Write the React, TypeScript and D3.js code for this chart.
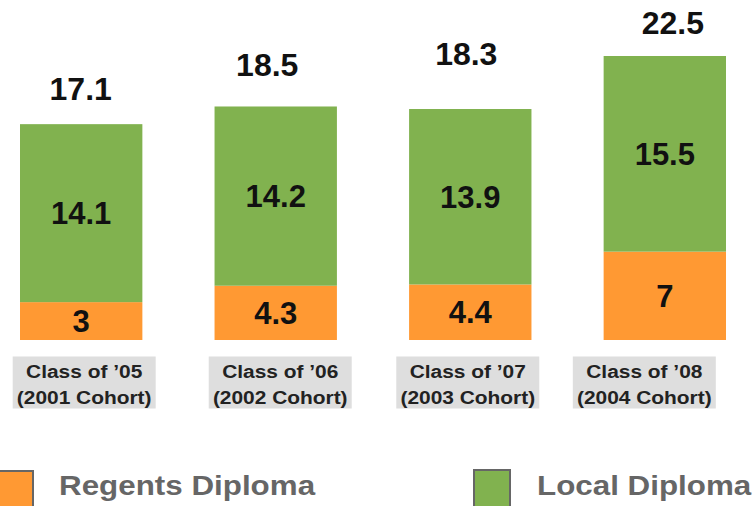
import React from 'react'
import * as d3 from 'd3'

const categories = ['2001', '2002', '2003', '2004']
const classLabels = ['Class of \u201905', 'Class of \u201906', 'Class of \u201907', 'Class of \u201908']
const cohortLabels = ['(2001 Cohort)', '(2002 Cohort)', '(2003 Cohort)', '(2004 Cohort)']
const regents = [3, 4.3, 4.4, 7]
const local = [14.1, 14.2, 13.9, 15.5]
const totals = [17.1, 18.5, 18.3, 22.5]

// hand-placed label nudges in the original slide
const totalDx = [-0.5, -8.5, -4, 8]
const totalGap = [24, 30, 44, 22]
const boxDx = [3, 4.5, -2.5, -20.5]

const W = 755, H = 506
const FONT = 'Liberation Sans, Arial, Helvetica, sans-serif'
const ORANGE = '#FF9933'
const GREEN = '#81B24F'

export default function App() {
  const rows = categories.map((c, i) => ({ cat: c, regents: regents[i], local: local[i] }))
  const keys = ['regents', 'local']
  const stack = d3.stack<any>().keys(keys)(rows)
  const x = d3.scaleBand().domain(categories).range([20, 726]).paddingInner(0.371).paddingOuter(0)
  const y = d3.scaleLinear().domain([0, 22.5]).range([340, 56])
  const color = d3.scaleOrdinal<string>().domain(keys).range([ORANGE, GREEN])
  const bw = x.bandwidth()

  return (
    <div style={{ position: 'absolute', left: 0, top: 0 }}>
      <svg width={W} height={H} style={{ display: 'block', fontFamily: FONT }}>
        <rect width={W} height={H} fill="#fff" />
        {stack.map(layer => (
          <g key={layer.key}>
            {layer.map((d, i) => (
              <g key={i}>
                <rect x={x(categories[i])} y={y(d[1])} width={bw} height={y(d[0]) - y(d[1])} fill={color(layer.key)} />
                <text x={(x(categories[i]) as number) + bw / 2} y={(y(d[0]) + y(d[1])) / 2 + 11}
                  textAnchor="middle" fontSize={31} fontWeight="bold" fill="#111">
                  {d[1] - d[0] === Math.round(d[1] - d[0]) ? String(Math.round(d[1] - d[0])) : (d[1] - d[0]).toFixed(1)}
                </text>
              </g>
            ))}
          </g>
        ))}
        {categories.map((c, i) => (
          <text key={'t' + c} x={(x(c) as number) + bw / 2 + totalDx[i]} y={y(totals[i]) - totalGap[i]}
            textAnchor="middle" fontSize={32} fontWeight="bold" fill="#111">{totals[i].toFixed(1)}</text>
        ))}
        {categories.map((c, i) => {
          const cx = (x(c) as number) + bw / 2 + boxDx[i]
          const top = 356.5
          return (
            <g key={'b' + c}>
              <rect x={cx - 71.5} y={top} width={143} height={52} fill="#DEDEDE" />
              <g transform={`translate(${cx},${top + 21}) scale(1.1,1)`}>
                <text textAnchor="middle" fontSize={19} fontWeight="bold" fill="#222">{classLabels[i]}</text>
              </g>
              <g transform={`translate(${cx},${top + 47}) scale(1.1,1)`}>
                <text textAnchor="middle" fontSize={19} fontWeight="bold" fill="#222">{cohortLabels[i]}</text>
              </g>
            </g>
          )
        })}
        <g>
          <rect x={-3} y={471} width={36} height={38} fill={ORANGE} stroke="#666" strokeWidth={2} />
          <g transform="translate(59,495) scale(1.12,1)">
            <text fontSize={28} fontWeight="bold" fill="#666">Regents Diploma</text>
          </g>
          <rect x={474} y={470} width={36} height={38} fill={GREEN} stroke="#666" strokeWidth={2} />
          <g transform="translate(537,495) scale(1.12,1)">
            <text fontSize={28} fontWeight="bold" fill="#666">Local Diploma</text>
          </g>
        </g>
      </svg>
    </div>
  )
}
